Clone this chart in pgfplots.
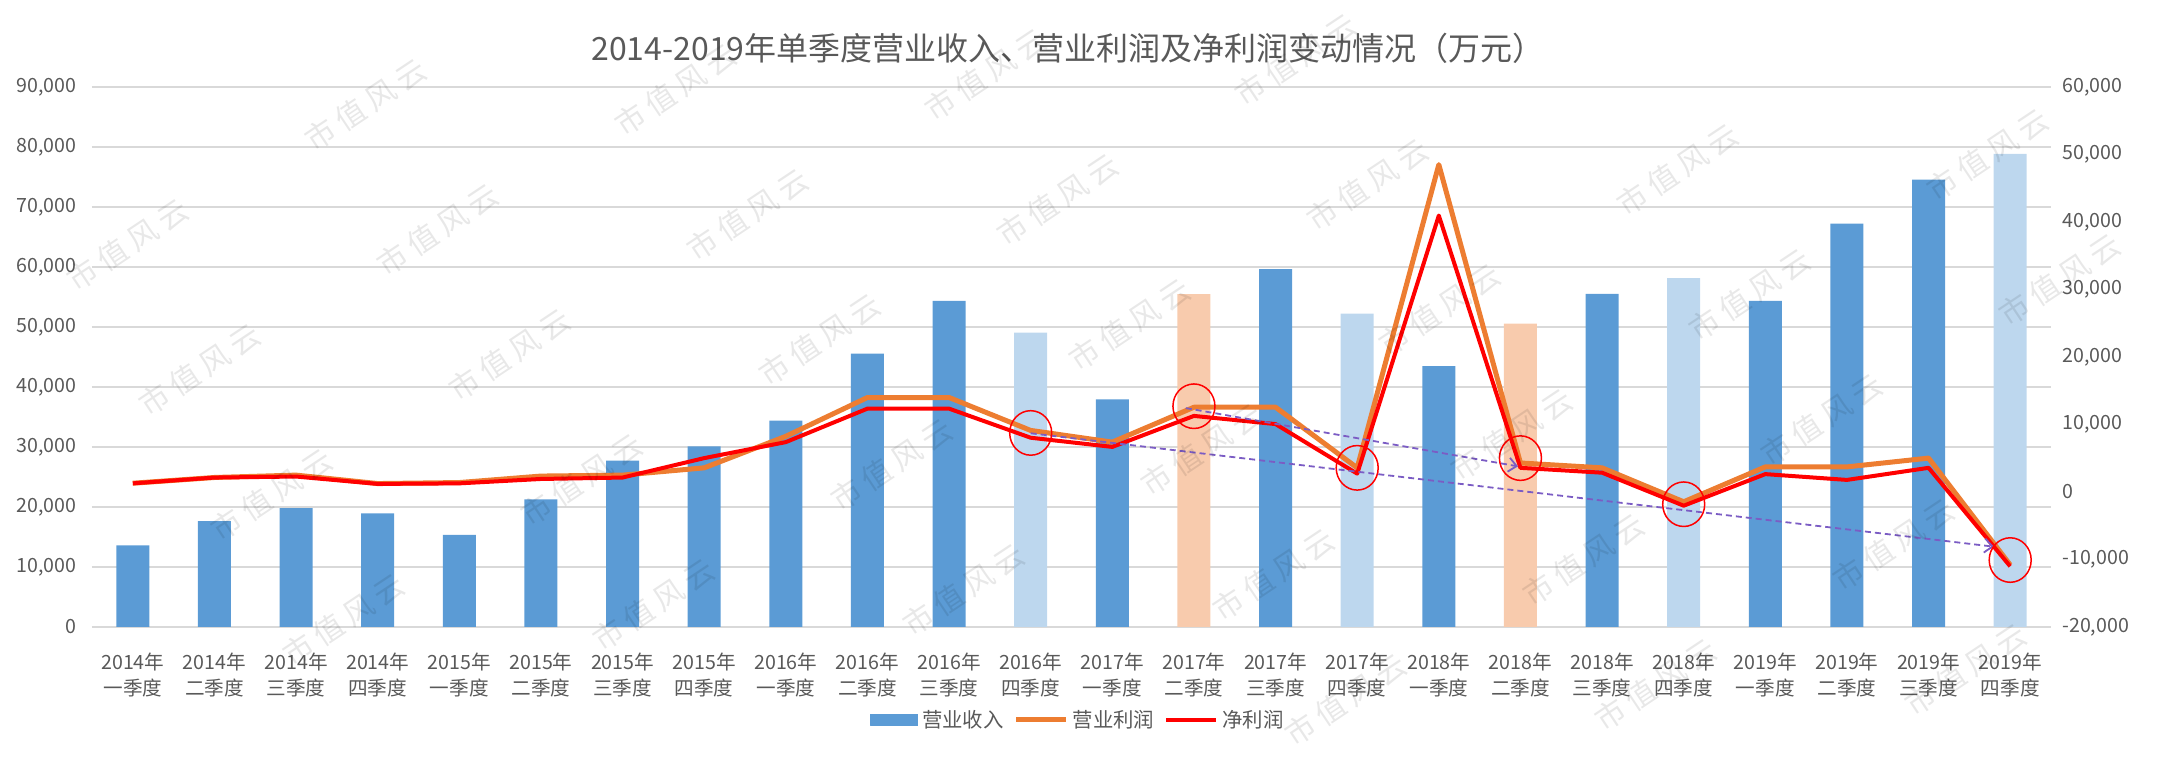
\documentclass[border=0pt]{standalone}
\usepackage{pgfplots}
\pgfplotsset{compat=1.18}
\usepackage{fontspec}
\setmainfont{Noto Sans CJK SC}
\usetikzlibrary{arrows.meta}

\definecolor{barblue}{HTML}{5B9BD5}
\definecolor{barlight}{HTML}{BDD7EE}
\definecolor{barpeach}{HTML}{F8CBAD}
\definecolor{lineorange}{HTML}{ED7D31}
\definecolor{linered}{HTML}{FF0000}
\definecolor{trendpurple}{HTML}{7B5CC4}
\definecolor{txtgray}{HTML}{595959}
\definecolor{gridgray}{HTML}{D9D9D9}

\pgfplotsset{
  quarterframe/.style={
    scale only axis,
    width=979.5pt, height=270pt,
    at={(46pt,66.5pt)}, anchor=south west,
    xmin=-0.5, xmax=23.5,
    scaled y ticks=false,
    axis line style={draw=none},
    tick style={draw=none},
    ticklabel style={text=txtgray, font=\fontsize{9.8}{12.6}\selectfont},
  }
}

\begin{document}
\begin{tikzpicture}
\path[use as bounding box] (0pt,0pt) rectangle (1079pt,380pt);

% revenue bars, left axis
\begin{axis}[
  quarterframe,
  ymin=0, ymax=90000,
  ytick={0,10000,...,90000},
  yticklabels={0,{10,000},{20,000},{30,000},{40,000},{50,000},{60,000},{70,000},{80,000},{90,000}},
  yticklabel style={anchor=east, inner sep=0pt, xshift=-7.5pt},
  ymajorgrids,
  grid style={draw=gridgray, line width=0.75pt},
  xtick={0,...,23},
  xticklabels={
    {2014年\\一季度},{2014年\\二季度},{2014年\\三季度},{2014年\\四季度},
    {2015年\\一季度},{2015年\\二季度},{2015年\\三季度},{2015年\\四季度},
    {2016年\\一季度},{2016年\\二季度},{2016年\\三季度},{2016年\\四季度},
    {2017年\\一季度},{2017年\\二季度},{2017年\\三季度},{2017年\\四季度},
    {2018年\\一季度},{2018年\\二季度},{2018年\\三季度},{2018年\\四季度},
    {2019年\\一季度},{2019年\\二季度},{2019年\\三季度},{2019年\\四季度}},
  xticklabel style={align=center, anchor=north, inner sep=0pt, yshift=-8.7pt},
  ybar, bar width=16.5pt, bar shift=0pt,
]
\addplot[fill=barblue, draw=none] coordinates {
  (0,13600) (1,17650) (2,19800) (3,18950) (4,15350) (5,21270)
  (6,27720) (7,30100) (8,34400) (9,45550) (10,54350) (12,37950)
  (14,59630) (16,43470) (18,55520) (20,54350) (21,67250) (22,74550)};
\addplot[fill=barlight, draw=none] coordinates {
  (11,49050) (15,52250) (19,58150) (23,78860)};
\addplot[fill=barpeach, draw=none] coordinates {
  (13,55470) (17,50560)};
\end{axis}

% operating profit and net profit, right axis
\begin{axis}[
  quarterframe,
  hide x axis,
  axis y line*=right,
  ymin=-20000, ymax=60000,
  ytick={-20000,-10000,...,60000},
  yticklabels={{-20,000},{-10,000},0,{10,000},{20,000},{30,000},{40,000},{50,000},{60,000}},
  yticklabel style={anchor=west, inner sep=0pt, xshift=5.5pt},
  line join=round,
  legend columns=-1,
  legend style={
    at={(0.5038,-0.1722)}, anchor=center,
    draw=none, fill=none,
    font=\fontsize{10.2}{12}\selectfont, text=txtgray,
    /tikz/every even column/.append style={column sep=3pt},
    nodes={inner xsep=2pt, inner ysep=1pt},
  },
  legend image code/.code={\draw[#1] (0pt,0pt) -- (25pt,0pt);},
]
\addlegendimage{legend image code/.code={\fill[barblue] (0pt,-2.9pt) rectangle (23.5pt,2.9pt);}}
\addlegendentry{营业收入}
\addplot[lineorange, line width=2.5pt] coordinates {
  (0,1300) (1,2150) (2,2500) (3,1250) (4,1400) (5,2360)
  (6,2500) (7,3580) (8,8250) (9,14000) (10,14000) (11,9120)
  (12,7390) (13,12560) (14,12560) (15,3580) (16,48500) (17,4300)
  (18,3580) (19,-1450) (20,3720) (21,3720) (22,5020) (23,-10800)};
\addlegendentry{营业利润}
\addplot[linered, line width=2pt] coordinates {
  (0,1280) (1,2140) (2,2290) (3,1200) (4,1280) (5,1930)
  (6,2140) (7,5020) (8,7390) (9,12350) (10,12350) (11,8040)
  (12,6680) (13,11270) (14,10060) (15,2720) (16,40960) (17,3580)
  (18,2860) (19,-2030) (20,2650) (21,1790) (22,3580) (23,-11010)};
\addlegendentry{净利润}
% downward trend arrows
\addplot[forget plot, trendpurple, line width=0.9pt, dash pattern=on 3pt off 2pt,
  -{Straight Barb[length=4pt, width=7pt]}] coordinates {(11,8700) (22.8,-8100)};
\addplot[forget plot, trendpurple, line width=0.9pt, dash pattern=on 3pt off 2pt,
  -{Straight Barb[length=4pt, width=7pt]}] coordinates {(12.9,12430) (16.97,3800)};
% highlighted quarters
\addplot[forget plot, only marks, mark=o, mark size=10.5pt,
  mark options={draw=linered, line width=0.75pt, fill=none, yscale=1.06}] coordinates {
  (11,8750) (13,12710) (15,3580) (17,5020) (19,-1810) (23,-10080)};
\end{axis}

\node[text=txtgray, font=\fontsize{16}{18}\selectfont] at (534pt,355.75pt)
  {2014-2019年单季度营业收入、营业利润及净利润变动情况（万元）};

% watermark, only where a full stamp fits on the page
\foreach \i in {-3,...,6} {
  \foreach \j in {-2,...,7} {
    \pgfmathsetmacro\wx{(128+72*\i+310*\j)/2}
    \pgfmathsetmacro\wy{(515-125*\i+15*\j)/2}
    \ifdim\wx pt>33pt \ifdim\wx pt<1046pt \ifdim\wy pt>25.5pt \ifdim\wy pt<354.5pt
      \node[rotate=33.7, text=black, text opacity=0.09,
        font=\fontsize{15}{15}\selectfont] at (\wx pt,\wy pt)
        {市\hspace{3pt}值\hspace{3pt}风\hspace{3pt}云};
    \fi\fi\fi\fi
  }
}
\end{tikzpicture}
\end{document}
